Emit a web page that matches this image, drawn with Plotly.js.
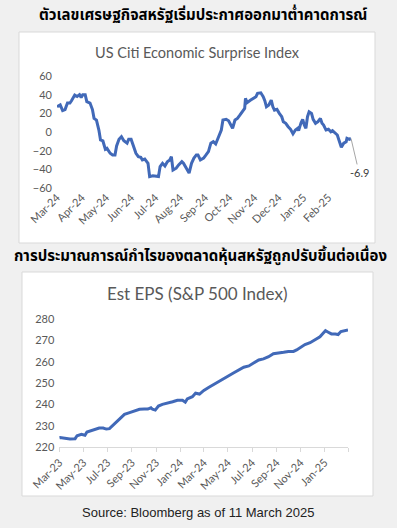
<!DOCTYPE html>
<html><head><meta charset="utf-8">
<script src="https://cdn.plot.ly/plotly-3.0.1.min.js"></script>
<style>html,body{margin:0;padding:0;background:#f0f0f0;}#chart{width:397px;height:528px;}</style>
</head><body><div id="chart"></div>
<script>
const cesiDates = ['2024-03-11','2024-03-15','2024-03-18','2024-03-21','2024-03-24','2024-03-27','2024-03-29','2024-04-02','2024-04-05','2024-04-08','2024-04-10','2024-04-12','2024-04-15','2024-04-17','2024-04-21','2024-04-24','2024-04-26','2024-04-29','2024-05-02','2024-05-04','2024-05-07','2024-05-10','2024-05-12','2024-05-16','2024-05-19','2024-05-22','2024-05-24','2024-05-27','2024-05-30','2024-06-02','2024-06-06','2024-06-08','2024-06-11','2024-06-14','2024-06-17','2024-06-20','2024-06-23','2024-06-25','2024-06-28','2024-07-02','2024-07-03','2024-07-04','2024-07-08','2024-07-12','2024-07-15','2024-07-17','2024-07-20','2024-07-23','2024-07-26','2024-07-29','2024-07-31','2024-08-02','2024-08-06','2024-08-09','2024-08-13','2024-08-15','2024-08-18','2024-08-22','2024-08-25','2024-08-28','2024-08-31','2024-09-02','2024-09-05','2024-09-09','2024-09-12','2024-09-15','2024-09-18','2024-09-21','2024-09-24','2024-09-27','2024-10-01','2024-10-03','2024-10-07','2024-10-10','2024-10-13','2024-10-15','2024-10-18','2024-10-21','2024-10-24','2024-10-27','2024-10-30','2024-10-31','2024-11-02','2024-11-06','2024-11-10','2024-11-13','2024-11-15','2024-11-18','2024-11-19','2024-11-22','2024-11-24','2024-11-26','2024-11-29','2024-12-02','2024-12-04','2024-12-06','2024-12-09','2024-12-12','2024-12-15','2024-12-17','2024-12-20','2024-12-23','2024-12-26','2024-12-29','2025-01-01','2025-01-04','2025-01-05','2025-01-08','2025-01-10','2025-01-12','2025-01-14','2025-01-16','2025-01-18','2025-01-21','2025-01-23','2025-01-26','2025-01-29','2025-02-01','2025-02-03','2025-02-05','2025-02-08','2025-02-11','2025-02-14','2025-02-16','2025-02-19','2025-02-22','2025-02-24','2025-02-27','2025-03-02','2025-03-05','2025-03-06','2025-03-09','2025-03-11'];
const cesiValues = [27,29,23,24,31,31,33.5,39.6,38,40,37,40,40,32.5,31,24,14.6,12.8,2,-8.5,-9.6,-18.5,-17.5,-22.8,-24.6,-24.6,-15,-7.8,-5,-9.3,-12,-7.8,-7.8,-15.7,-22.8,-26.4,-27,-30,-29,-33.5,-40.7,-47.8,-47,-47,-47.8,-37,-33.5,-36.4,-31.8,-30,-26.4,-40.7,-38.8,-35.3,-31.8,-33.5,-37.8,-44,-33.5,-28,-24.6,-24.6,-30,-28,-24.6,-21,-12,-10.4,-12.8,-6.8,2.1,12.8,13.6,12,7.5,4,12.8,14.6,18,21.7,25.3,36,31.4,34,36,37.8,41.4,42.5,42,37.8,33.5,27,29,34.2,27,23.5,24.3,20,16.4,11,9.3,5.7,2.9,-2,2.1,4,1.4,10,13.6,7.5,4,16.4,21.7,20,13.6,9.3,11,14.6,9.3,7.5,2.1,2.9,0.3,1.4,-0.7,-3.2,-8.5,-16.4,-12,-10.4,-6.8,-7.8,-6.9];
const cesiTickDates = ['2024-03-11','2024-04-11','2024-05-11','2024-06-11','2024-07-11','2024-08-11','2024-09-11','2024-10-11','2024-11-11','2024-12-11','2025-01-11','2025-02-11','2025-03-11'];
const cesiTickLabels = ['Mar-24','Apr-24','May-24','Jun-24','Jul-24','Aug-24','Sep-24','Oct-24','Nov-24','Dec-24','Jan-25','Feb-25',''];
const cesiYTicks = [-60,-40,-20,0,20,40,60];
const cesiLastLabel = '-6.9';

const epsDates = ['2023-03-11','2023-03-13','2023-03-25','2023-04-07','2023-04-20','2023-04-25','2023-05-06','2023-05-15','2023-05-20','2023-05-31','2023-06-09','2023-06-20','2023-06-30','2023-07-08','2023-07-16','2023-07-25','2023-08-06','2023-08-15','2023-08-23','2023-09-05','2023-09-17','2023-09-30','2023-10-12','2023-10-21','2023-10-29','2023-11-02','2023-11-09','2023-11-17','2023-11-27','2023-12-10','2023-12-23','2024-01-04','2024-01-17','2024-01-24','2024-01-29','2024-02-11','2024-02-19','2024-02-29','2024-03-11','2024-03-24','2024-04-06','2024-04-18','2024-05-01','2024-05-13','2024-05-26','2024-06-07','2024-06-20','2024-07-03','2024-07-15','2024-07-28','2024-08-09','2024-08-22','2024-09-03','2024-09-16','2024-09-29','2024-10-11','2024-10-24','2024-11-01','2024-11-10','2024-11-22','2024-12-05','2024-12-17','2024-12-30','2025-01-07','2025-01-13','2025-01-20','2025-01-28','2025-02-07','2025-02-14','2025-02-21','2025-03-01','2025-03-07','2025-03-11'];
const epsValues = [224.3,224.4,224.1,223.8,223.9,225.3,225.9,225.5,227,227.6,228,228.9,228.9,228.4,228.6,230.3,232.2,234.2,235.3,236.1,237,237.7,237.8,237.8,238.4,237.7,237.3,239.2,240,240.5,241.2,241.9,241.9,241,242.5,243.6,245.2,244.8,246.5,248,249.5,250.9,252.2,253.4,254.8,256.1,257.4,258,259.2,260.8,261.3,262.3,263.7,263.9,264.4,264.8,264.8,265.5,266.7,268,268.9,270.2,271.7,273.3,274.5,273.8,273,273,272.7,274.1,274.4,274.8,274.9];
const epsTickDates = ['2023-03-11','2023-05-11','2023-07-11','2023-09-11','2023-11-11','2024-01-11','2024-03-11','2024-05-11','2024-07-11','2024-09-11','2024-11-11','2025-01-11','2025-03-11'];
const epsTickLabels = ['Mar-23','May-23','Jul-23','Sep-23','Nov-23','Jan-24','Mar-24','May-24','Jul-24','Sep-24','Nov-24','Jan-25',''];
const epsYTicks = [220,230,240,250,260,270,280];

const titleTop = 'ตัวเลขเศรษฐกิจสหรัฐเริ่มประกาศออกมาต่ำคาดการณ์';
const chartTitleTop = 'US Citi Economic Surprise Index';
const titleBottom = 'การประมาณการณ์กำไรของตลาดหุ้นสหรัฐถูกปรับขึ้นต่อเนื่อง';
const chartTitleBottom = 'Est EPS (S&P 500 Index)';
const sourceText = 'Source: Bloomberg as of 11 March 2025';

const W = 397, H = 528;
const px = v => v / W;
const py = v => 1 - v / H;
const lineColor = '#4169b8';
const axisFont = {family: 'Lato, "Open Sans", sans-serif', size: 11, color: '#595959'};
const thaiFont = {family: '"Noto Sans Thai", Tahoma, "DejaVu Sans", sans-serif', size: 15, color: '#000000'};

const traces = [
  {x: cesiDates, y: cesiValues, xaxis: 'x', yaxis: 'y', type: 'scatter', mode: 'lines',
   line: {color: lineColor, width: 3}, hoverinfo: 'skip'},
  {x: epsDates, y: epsValues, xaxis: 'x3', yaxis: 'y3', type: 'scatter', mode: 'lines',
   line: {color: lineColor, width: 3}, hoverinfo: 'skip'}
];

const topRange = ['2024-03-11', '2025-03-11'];
const botRange = ['2023-03-11', '2025-03-11'];

const layout = {
  width: W, height: H,
  margin: {l: 0, r: 0, t: 0, b: 0},
  paper_bgcolor: '#f0f0f0',
  plot_bgcolor: 'rgba(0,0,0,0)',
  showlegend: false,
  xaxis: {domain: [px(57), px(351)], anchor: 'y', type: 'date', range: topRange,
    tickvals: cesiTickDates, ticktext: cesiTickLabels, tickangle: -45, ticks: '',
    showgrid: false, zeroline: false, showline: false, tickfont: axisFont, fixedrange: true},
  xaxis2: {domain: [px(57), px(351)], overlaying: 'x', anchor: 'free', position: 0.75, type: 'date', range: topRange,
    tickvals: cesiTickDates, showticklabels: false, ticks: 'outside', ticklen: 3, tickcolor: '#d9d9d9',
    showgrid: false, zeroline: false, showline: true, linecolor: '#d9d9d9', linewidth: 1},
  yaxis: {domain: [py(188), py(76)], anchor: 'x', range: [-60, 60], tickvals: cesiYTicks,
    showgrid: false, zeroline: false, showline: false, ticks: '', tickfont: axisFont, ticklabelstandoff: 4},
  xaxis3: {domain: [px(59.3), px(348)], anchor: 'y3', type: 'date', range: botRange,
    tickvals: epsTickDates, ticktext: epsTickLabels, tickangle: -45, ticks: 'outside', ticklen: 4, tickcolor: '#d9d9d9',
    showgrid: false, zeroline: false, showline: true, linecolor: '#d9d9d9', linewidth: 1, tickfont: axisFont},
  yaxis3: {domain: [py(447), py(319)], anchor: 'x3', range: [220, 280], tickvals: epsYTicks,
    showgrid: false, zeroline: false, showline: false, ticks: '', tickfont: axisFont, ticklabelstandoff: 4},
  shapes: [
    {type: 'rect', xref: 'paper', yref: 'paper', x0: px(19), x1: px(375), y0: py(243), y1: py(32),
     fillcolor: '#ffffff', line: {color: '#d9d9d9', width: 1}, layer: 'below'},
    {type: 'rect', xref: 'paper', yref: 'paper', x0: px(22), x1: px(373), y0: py(496), y1: py(272),
     fillcolor: '#ffffff', line: {color: '#d9d9d9', width: 1}, layer: 'below'}
  ],
  annotations: [
    {text: '<b>' + titleTop + '</b>', xref: 'paper', yref: 'paper', x: px(203), y: py(16), showarrow: false,
     font: thaiFont, xanchor: 'center', yanchor: 'middle'},
    {text: chartTitleTop, xref: 'paper', yref: 'paper', x: px(197), y: py(52), showarrow: false,
     font: {family: 'Lato, "Open Sans", sans-serif', size: 14.5, color: '#595959'}, xanchor: 'center', yanchor: 'middle'},
    {text: '<b>' + titleBottom + '</b>', xref: 'paper', yref: 'paper', x: px(200), y: py(256), showarrow: false,
     font: thaiFont, xanchor: 'center', yanchor: 'middle'},
    {text: chartTitleBottom, xref: 'paper', yref: 'paper', x: px(197), y: py(293), showarrow: false,
     font: {family: 'Lato, "Open Sans", sans-serif', size: 17, color: '#595959'}, xanchor: 'center', yanchor: 'middle'},
    {text: sourceText, xref: 'paper', yref: 'paper', x: px(198), y: py(512), showarrow: false,
     font: {family: '"Liberation Sans", Arial, sans-serif', size: 13, color: '#222222'}, xanchor: 'center', yanchor: 'middle'},
    {text: cesiLastLabel, xref: 'x', yref: 'y', x: cesiDates[cesiDates.length - 1], y: cesiValues[cesiValues.length - 1],
     showarrow: true, arrowhead: 0, arrowwidth: 1, arrowcolor: '#a6a6a6', ax: 8, ay: 34,
     font: {family: 'Lato, "Open Sans", sans-serif', size: 11, color: '#404040'}}
  ]
};

Plotly.newPlot('chart', traces, layout, {staticPlot: true, displayModeBar: false});
</script>
</body></html>
